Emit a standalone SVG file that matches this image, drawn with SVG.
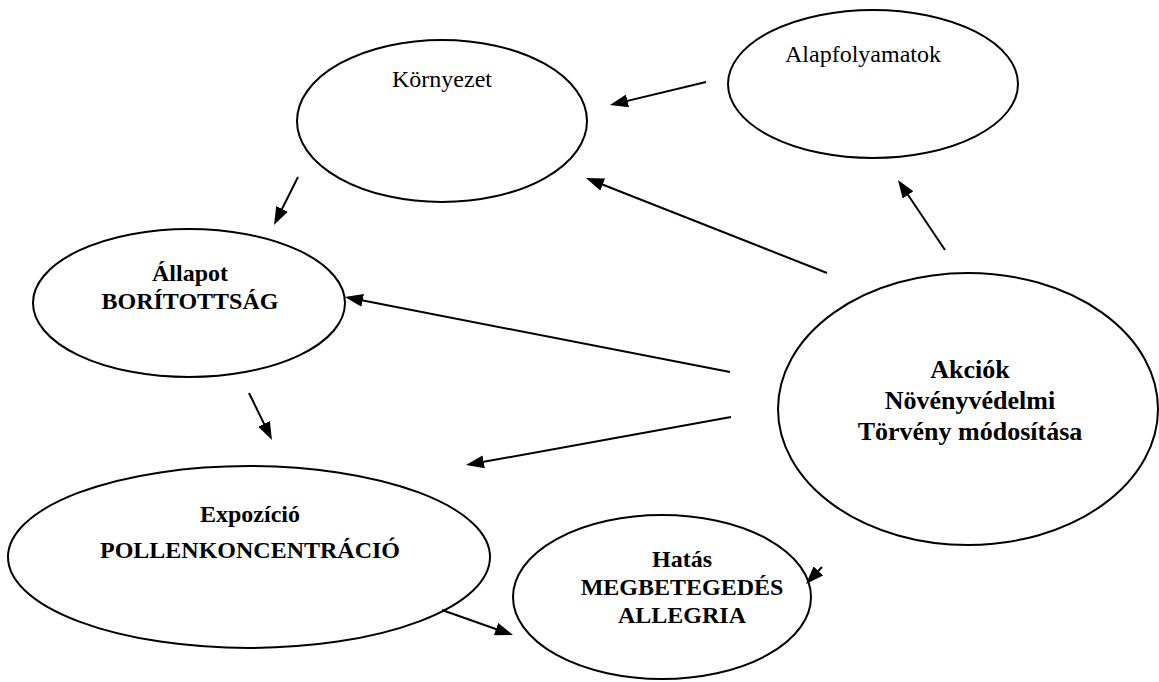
<svg xmlns="http://www.w3.org/2000/svg" width="1159" height="682" viewBox="0 0 1159 682">
<style>
.node ellipse{fill:#fff;stroke:#000;stroke-width:2}
.t{font-family:"Liberation Serif","Times New Roman",serif;font-size:24px;fill:#000;text-anchor:middle}
.b{font-weight:bold}
.big{font-size:26px}
#connectors line{stroke:#000;stroke-width:2;marker-end:url(#arr)}
</style>
<defs>
<marker id="arr" markerUnits="userSpaceOnUse" markerWidth="18" markerHeight="13" refX="14" refY="6.5" orient="auto">
<path d="M0,0 L18,6.5 L0,13 Z" fill="#000"/>
</marker>
</defs>
<rect width="1159" height="682" fill="#fff"/>
<g id="kornyezet" class="node">
<ellipse cx="442" cy="121" rx="145" ry="81"/>
<text class="t" x="442" y="87">Környezet</text>
</g>
<g id="alapfolyamatok" class="node">
<ellipse cx="873" cy="84" rx="145" ry="74"/>
<text class="t" x="863" y="62">Alapfolyamatok</text>
</g>
<g id="allapot" class="node">
<ellipse cx="189" cy="303" rx="156" ry="74"/>
<text class="t b" x="190" y="281">Állapot</text>
<text class="t b" x="190" y="309">BORÍTOTTSÁG</text>
</g>
<g id="akciok" class="node">
<ellipse cx="968" cy="409" rx="190" ry="136"/>
<text class="t b big" x="970" y="378">Akciók</text>
<text class="t b big" x="970" y="409">Növényvédelmi</text>
<text class="t b big" x="970" y="440">Törvény módosítása</text>
</g>
<g id="expozicio" class="node">
<ellipse cx="249" cy="557" rx="241" ry="91"/>
<text class="t b" x="250" y="522">Expozíció</text>
<text class="t b" x="250" y="558">POLLENKONCENTRÁCIÓ</text>
</g>
<g id="hatas" class="node">
<ellipse cx="662" cy="597" rx="149" ry="82"/>
<text class="t b" x="682" y="567">Hatás</text>
<text class="t b" x="682" y="595">MEGBETEGEDÉS</text>
<text class="t b" x="682" y="623">ALLEGRIA</text>
</g>
<g id="connectors">
<line x1="706" y1="82" x2="613.9" y2="104.1"/>
<line x1="827" y1="273" x2="589.7" y2="179.5"/>
<line x1="945" y1="250" x2="900.2" y2="183.3"/>
<line x1="298" y1="177" x2="275.8" y2="221.4"/>
<line x1="730" y1="372" x2="348.9" y2="297.8"/>
<line x1="249" y1="393" x2="270.2" y2="436.4"/>
<line x1="731" y1="417" x2="469.9" y2="464.3"/>
<line x1="442" y1="610" x2="509.2" y2="633.7"/>
<line x1="822" y1="567" x2="808.7" y2="581.1"/>
</g>
</svg>
